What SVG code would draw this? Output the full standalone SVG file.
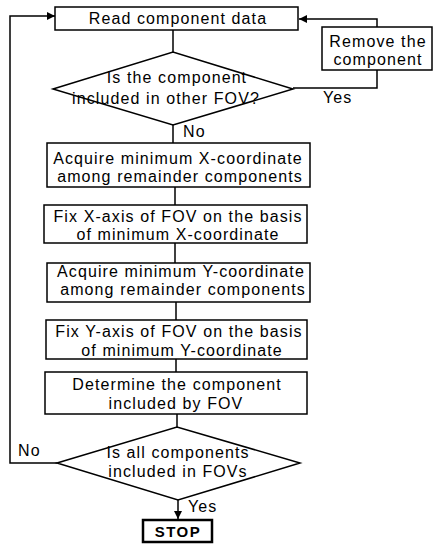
<svg xmlns="http://www.w3.org/2000/svg" width="435" height="545" viewBox="0 0 435 545">
<style>
.b{fill:#fff;stroke:#000;stroke-width:1.5}
.l{fill:none;stroke:#000;stroke-width:1.5}
text{font-family:"Liberation Sans",Arial,sans-serif;font-size:16px;letter-spacing:1.1px;fill:#000;text-anchor:middle}
.s{font-weight:bold;font-size:15px;letter-spacing:1.5px}
.st{text-anchor:start}
</style>
<defs>
<marker id="ah" viewBox="0 0 10 10" refX="10" refY="5" markerWidth="8" markerHeight="8" markerUnits="userSpaceOnUse" orient="auto">
<path d="M0,0 L10,5 L0,10 z" fill="#000"/>
</marker>
</defs>
<rect width="435" height="545" fill="#fff"/>
<g id="connectors">
<path class="l" d="M173,30 V52"/>
<path class="l" d="M293,88 H377 V70"/>
<path class="l" d="M377,27 V19 H299" marker-end="url(#ah)"/>
<path class="l" d="M173,125 V143"/>
<path class="l" d="M175,187 V205"/>
<path class="l" d="M175,243 V263"/>
<path class="l" d="M176,302 V320"/>
<path class="l" d="M176,359 V372"/>
<path class="l" d="M177,414 V427"/>
<path class="l" d="M57,463 H10 V16 H55" marker-end="url(#ah)"/>
<path class="l" d="M178,500 V519" marker-end="url(#ah)"/>
<text class="st" x="323" y="103">Yes</text>
<text class="st" x="183" y="137">No</text>
<text class="st" x="18" y="456">No</text>
<text class="st" x="188" y="512">Yes</text>
</g>
<g id="read">
<rect class="b" x="55" y="7" width="243" height="23"/>
<text x="178" y="24">Read component data</text>
</g>
<g id="remove">
<rect class="b" x="322" y="27" width="110" height="43"/>
<text x="378" y="47">Remove the</text>
<text x="378" y="65">component</text>
</g>
<g id="decision1">
<polygon class="b" points="53,89 173,52 293,89 173,125"/>
<text x="177" y="83">Is the component</text>
<text x="166" y="104">included in other FOV?</text>
</g>
<g id="acquireX">
<rect class="b" x="47" y="143" width="263" height="44"/>
<text x="178" y="164">Acquire minimum X-coordinate</text>
<text x="180" y="182">among remainder components</text>
</g>
<g id="fixX">
<rect class="b" x="44" y="205" width="263" height="38"/>
<text x="178" y="222">Fix X-axis of FOV on the basis</text>
<text x="178" y="240">of minimum X-coordinate</text>
</g>
<g id="acquireY">
<rect class="b" x="47" y="263" width="263" height="39"/>
<text x="181" y="277">Acquire minimum Y-coordinate</text>
<text x="183" y="295">among remainder components</text>
</g>
<g id="fixY">
<rect class="b" x="46" y="320" width="261" height="39"/>
<text x="179" y="337">Fix Y-axis of FOV on the basis</text>
<text x="182" y="356">of minimum Y-coordinate</text>
</g>
<g id="determine">
<rect class="b" x="45" y="372" width="262" height="42"/>
<text x="177" y="390">Determine the component</text>
<text x="176" y="409">included by FOV</text>
</g>
<g id="decision2">
<polygon class="b" points="57,463 177,427 300,463 178,500"/>
<text x="178" y="458">Is all components</text>
<text x="178" y="477">included in FOVs</text>
</g>
<g id="stop">
<rect x="143" y="520" width="69" height="22" fill="#fff" stroke="#000" stroke-width="2.5"/>
<text class="s" x="178" y="537">STOP</text>
</g>
</svg>
